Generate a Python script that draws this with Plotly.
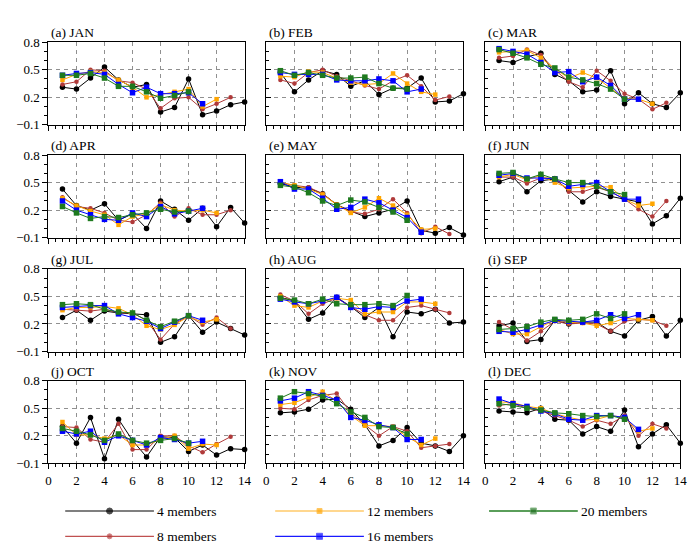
import plotly.graph_objects as go

# ---------------- data ----------------
MONTHS = ["(a) JAN", "(b) FEB", "(c) MAR", "(d) APR", "(e) MAY", "(f) JUN",
          "(g) JUL", "(h) AUG", "(i) SEP", "(j) OCT", "(k) NOV", "(l) DEC"]
SERIES = ["4 members", "8 members", "12 members", "16 members", "20 members"]

# each month: [4 members, 8 members, 12 members, 16 members, 20 members]
JAN = [[0.31, 0.29, 0.41, 0.53, 0.39, 0.31, 0.34, 0.04, 0.09, 0.40, 0.01, 0.05, 0.12, 0.15],
       [0.34, 0.37, 0.50, 0.49, 0.38, 0.36, 0.29, 0.08, 0.19, 0.20, 0.07, 0.13, 0.20],
       [0.39, 0.45, 0.48, 0.47, 0.39, 0.31, 0.20, 0.23, 0.26, 0.29, 0.10, 0.18],
       [0.44, 0.46, 0.47, 0.45, 0.34, 0.25, 0.31, 0.24, 0.24, 0.25, 0.13],
       [0.44, 0.44, 0.46, 0.41, 0.32, 0.32, 0.26, 0.19, 0.22, 0.26]]
FEB = [[0.47, 0.26, 0.39, 0.49, 0.45, 0.32, 0.38, 0.23, 0.30, 0.30, 0.41, 0.15, 0.16, 0.24],
       [0.39, 0.35, 0.47, 0.50, 0.43, 0.38, 0.33, 0.29, 0.38, 0.44, 0.32, 0.17, 0.21],
       [0.43, 0.42, 0.48, 0.47, 0.41, 0.36, 0.34, 0.35, 0.46, 0.35, 0.26, 0.23],
       [0.47, 0.45, 0.45, 0.45, 0.39, 0.38, 0.38, 0.40, 0.38, 0.26, 0.29],
       [0.49, 0.44, 0.47, 0.44, 0.41, 0.41, 0.42, 0.35, 0.30, 0.29]]
MAR = [[0.60, 0.58, 0.64, 0.68, 0.45, 0.38, 0.26, 0.28, 0.49, 0.13, 0.25, 0.13, 0.09, 0.25],
       [0.63, 0.65, 0.72, 0.66, 0.50, 0.37, 0.31, 0.49, 0.38, 0.24, 0.18, 0.07, 0.14],
       [0.69, 0.70, 0.71, 0.63, 0.51, 0.41, 0.47, 0.41, 0.30, 0.19, 0.18, 0.13],
       [0.73, 0.70, 0.67, 0.58, 0.47, 0.48, 0.37, 0.42, 0.33, 0.18, 0.18],
       [0.72, 0.68, 0.63, 0.56, 0.52, 0.42, 0.39, 0.35, 0.29, 0.18]]
APR = [[0.43, 0.25, 0.20, 0.27, 0.09, 0.16, 0.00, 0.30, 0.21, 0.09, 0.22, 0.02, 0.23, 0.06],
       [0.34, 0.24, 0.22, 0.17, 0.09, 0.07, 0.15, 0.28, 0.13, 0.22, 0.15, 0.15, 0.20],
       [0.33, 0.25, 0.19, 0.15, 0.04, 0.13, 0.16, 0.26, 0.20, 0.19, 0.20, 0.17],
       [0.30, 0.20, 0.15, 0.10, 0.09, 0.17, 0.13, 0.24, 0.16, 0.19, 0.22],
       [0.24, 0.17, 0.11, 0.13, 0.12, 0.15, 0.17, 0.21, 0.18, 0.19]]
MAY = [[0.49, 0.45, 0.44, 0.38, 0.26, 0.19, 0.13, 0.17, 0.21, 0.30, -0.02, -0.05, 0.01, -0.07],
       [0.50, 0.47, 0.45, 0.38, 0.26, 0.18, 0.16, 0.21, 0.32, 0.17, -0.05, 0.02, -0.06],
       [0.50, 0.47, 0.43, 0.37, 0.26, 0.17, 0.23, 0.33, 0.25, 0.15, -0.01, 0.00],
       [0.51, 0.43, 0.43, 0.33, 0.21, 0.23, 0.32, 0.28, 0.20, 0.12, -0.04],
       [0.47, 0.45, 0.39, 0.30, 0.25, 0.31, 0.29, 0.23, 0.18, 0.09]]
JUN = [[0.51, 0.56, 0.40, 0.52, 0.54, 0.42, 0.29, 0.40, 0.35, 0.32, 0.29, 0.05, 0.14, 0.33],
       [0.56, 0.56, 0.49, 0.55, 0.55, 0.40, 0.40, 0.45, 0.40, 0.32, 0.21, 0.13, 0.30],
       [0.56, 0.59, 0.53, 0.58, 0.50, 0.44, 0.45, 0.46, 0.45, 0.32, 0.25, 0.27],
       [0.58, 0.60, 0.55, 0.55, 0.54, 0.46, 0.48, 0.50, 0.40, 0.32, 0.32],
       [0.60, 0.61, 0.54, 0.59, 0.54, 0.50, 0.50, 0.46, 0.40, 0.37]]
JUL = [[0.27, 0.35, 0.24, 0.34, 0.32, 0.31, 0.30, 0.00, 0.06, 0.29, 0.11, 0.22, 0.15, 0.08],
       [0.36, 0.35, 0.34, 0.36, 0.32, 0.32, 0.24, 0.03, 0.20, 0.29, 0.19, 0.27, 0.15],
       [0.35, 0.38, 0.38, 0.39, 0.37, 0.30, 0.18, 0.14, 0.19, 0.28, 0.22, 0.25],
       [0.38, 0.39, 0.40, 0.40, 0.31, 0.27, 0.23, 0.15, 0.22, 0.29, 0.24],
       [0.41, 0.42, 0.41, 0.36, 0.33, 0.32, 0.24, 0.17, 0.23, 0.29]]
AUG = [[0.49, 0.45, 0.25, 0.32, 0.49, 0.39, 0.27, 0.38, 0.06, 0.33, 0.31, 0.36, 0.21, 0.22],
       [0.52, 0.45, 0.31, 0.42, 0.48, 0.39, 0.30, 0.24, 0.24, 0.38, 0.40, 0.36, 0.32],
       [0.50, 0.40, 0.38, 0.45, 0.48, 0.46, 0.31, 0.33, 0.33, 0.44, 0.44, 0.42],
       [0.47, 0.44, 0.42, 0.45, 0.49, 0.38, 0.36, 0.39, 0.38, 0.45, 0.47],
       [0.48, 0.46, 0.42, 0.47, 0.42, 0.41, 0.41, 0.42, 0.40, 0.51]]
SEP = [[0.18, 0.21, 0.01, 0.03, 0.24, 0.20, 0.22, 0.22, 0.12, 0.07, 0.24, 0.28, 0.07, 0.24],
       [0.22, 0.14, 0.02, 0.12, 0.23, 0.20, 0.21, 0.20, 0.12, 0.23, 0.25, 0.24, 0.18],
       [0.14, 0.09, 0.09, 0.17, 0.24, 0.22, 0.21, 0.18, 0.21, 0.26, 0.25, 0.24],
       [0.12, 0.11, 0.14, 0.19, 0.24, 0.23, 0.22, 0.24, 0.30, 0.26, 0.30],
       [0.14, 0.15, 0.17, 0.22, 0.25, 0.24, 0.25, 0.31, 0.26, 0.31]]
OCT = [[0.30, 0.12, 0.40, -0.05, 0.38, 0.15, -0.03, 0.19, 0.18, 0.03, 0.10, -0.01, 0.06, 0.05],
       [0.30, 0.29, 0.16, 0.13, 0.33, 0.05, 0.05, 0.20, 0.20, 0.09, 0.02, 0.11, 0.19],
       [0.35, 0.21, 0.21, 0.17, 0.21, 0.10, 0.10, 0.16, 0.20, 0.06, 0.11, 0.10],
       [0.25, 0.22, 0.25, 0.13, 0.20, 0.15, 0.10, 0.18, 0.16, 0.12, 0.14],
       [0.28, 0.25, 0.21, 0.15, 0.22, 0.15, 0.12, 0.15, 0.17, 0.12]]
NOV = [[0.45, 0.46, 0.49, 0.59, 0.60, 0.49, 0.32, 0.09, 0.15, 0.29, 0.12, 0.09, 0.03, 0.20],
       [0.50, 0.49, 0.59, 0.64, 0.66, 0.45, 0.32, 0.20, 0.30, 0.25, 0.07, 0.09, 0.11],
       [0.54, 0.56, 0.62, 0.68, 0.58, 0.42, 0.31, 0.31, 0.30, 0.19, 0.10, 0.17],
       [0.58, 0.61, 0.68, 0.64, 0.59, 0.40, 0.37, 0.32, 0.29, 0.16, 0.16],
       [0.61, 0.68, 0.66, 0.63, 0.55, 0.46, 0.40, 0.30, 0.29, 0.22]]
DEC = [[0.47, 0.46, 0.45, 0.50, 0.38, 0.37, 0.22, 0.30, 0.25, 0.48, 0.08, 0.22, 0.32, 0.12],
       [0.53, 0.55, 0.50, 0.47, 0.42, 0.37, 0.30, 0.37, 0.33, 0.42, 0.20, 0.33, 0.28],
       [0.57, 0.56, 0.52, 0.50, 0.44, 0.40, 0.37, 0.38, 0.42, 0.40, 0.25, 0.28],
       [0.60, 0.55, 0.52, 0.47, 0.44, 0.38, 0.37, 0.42, 0.42, 0.40, 0.27],
       [0.55, 0.53, 0.50, 0.48, 0.45, 0.44, 0.42, 0.41, 0.42, 0.38]]

MONTH_DATA = [JAN, FEB, MAR, APR, MAY, JUN, JUL, AUG, SEP, OCT, NOV, DEC]

X_TICKS = [0, 2, 4, 6, 8, 10, 12, 14]
Y_TICKS = [-0.1, 0.2, 0.5, 0.8]
Y_TICKTEXT = ["\u22120.1", "0.2", "0.5", "0.8"]

# ---------------- styles ----------------
COLORS = ["#000000", "#b03a3a", "#ffa500", "#0000ff", "#1e7a1e"]
LEGEND_COLORS = ["#000000", "#c05050", "#ffb020", "#1a1aff", "#5a9e5a"]
LEGEND_MCOLORS = ["#000000", "#b03a3a", "#ffa500", "#0000ff", "#1e6e1e"]
SYMBOLS = ["circle", "circle", "square", "square", "square"]
MSIZES = [5.5, 4.5, 4.5, 5.5, 5.5]
FONT = "Liberation Serif"
GRID = "#909090"

W, H = 700, 547
COLS_PX = [(38, 237), (259, 459), (481, 679)]
ROWS_PX = [(28, 113), (144, 229), (261, 346), (376, 461)]

fig = go.Figure()
annotations = []

for i, (title, data) in enumerate(zip(MONTHS, MONTH_DATA)):
    r, c = divmod(i, 3)
    n = i + 1
    xa = "x" if n == 1 else f"x{n}"
    ya = "y" if n == 1 else f"y{n}"
    for s, vals in enumerate(data):
        fig.add_trace(go.Scatter(
            x=list(range(1, len(vals) + 1)), y=vals, mode="lines+markers",
            line=dict(color=COLORS[s], width=1),
            marker=dict(color=COLORS[s], symbol=SYMBOLS[s], size=MSIZES[s]),
            xaxis=xa, yaxis=ya, showlegend=False, cliponaxis=False,
            name=SERIES[s]))
    x0, x1 = COLS_PX[c]
    y0, y1 = ROWS_PX[r]
    xd = [x0 / W, x1 / W]
    yd = [1 - y1 / H, 1 - y0 / H]
    xkey = "xaxis" if n == 1 else f"xaxis{n}"
    ykey = "yaxis" if n == 1 else f"yaxis{n}"
    fig.update_layout(**{
        xkey: dict(domain=xd, anchor=ya, range=[0, 14], tickvals=X_TICKS,
                   showticklabels=(r == 3), ticks="outside", ticklen=5,
                   tickcolor="black", tickwidth=1,
                   minor=dict(dtick=0.5, tick0=0, ticklen=3, ticks="outside",
                              tickcolor="black", showgrid=False),
                   showgrid=True, gridcolor=GRID, griddash="4px,4px",
                   gridwidth=1, showline=True, linecolor="black", linewidth=1.2,
                   mirror=True, zeroline=False,
                   tickfont=dict(family=FONT, size=13, color="black")),
        ykey: dict(domain=yd, anchor=xa, range=[-0.1, 0.8], tickvals=Y_TICKS,
                   ticktext=Y_TICKTEXT, showticklabels=(c == 0),
                   ticks="outside" if c == 0 else "inside", ticklen=5,
                   tickcolor="black", tickwidth=1,
                   minor=dict(dtick=0.1, tick0=-0.1, ticklen=3,
                              ticks="outside" if c == 0 else "inside",
                              tickcolor="black", showgrid=False),
                   showgrid=True, gridcolor=GRID, griddash="4px,4px",
                   gridwidth=1, showline=True, linecolor="black", linewidth=1.2,
                   mirror=True, zeroline=False,
                   tickfont=dict(family=FONT, size=13, color="black")),
    })
    annotations.append(dict(
        text=title, xref="paper", yref="paper", x=(x0 + 1) / W, y=yd[1],
        xanchor="left", yanchor="bottom", yshift=0, showarrow=False,
        font=dict(family=FONT, size=13.5, color="black")))

# ---------------- custom legend on a hidden pixel axis ----------------
LEG_POS = [(55, 510), (55, 536), (268, 510), (268, 536), (485, 510)]
LEG_LEN = 90
for s, name in enumerate(SERIES):
    lx, ly = LEG_POS[s]
    fig.add_trace(go.Scatter(
        x=[lx, lx + LEG_LEN / 2, lx + LEG_LEN], y=[ly, ly, ly],
        mode="lines+markers",
        line=dict(color=LEGEND_COLORS[s], width=2 if s == 4 else 1.2),
        marker=dict(color=[LEGEND_MCOLORS[s]] * 3, size=[0, MSIZES[s] + 0.5, 0],
                    symbol=SYMBOLS[s]),
        xaxis="x13", yaxis="y13", showlegend=False, cliponaxis=False,
        hoverinfo="skip"))
    annotations.append(dict(
        text=name, x=lx + LEG_LEN + 1, y=ly, xref="x13", yref="y13",
        xanchor="left", yanchor="middle", showarrow=False,
        font=dict(family=FONT, size=13.5, color="black")))

fig.update_layout(
    xaxis13=dict(domain=[0, 1], range=[0, W], visible=False, anchor="y13"),
    yaxis13=dict(domain=[0, (H - 481) / H], range=[H, 481], visible=False,
                 anchor="x13"),
)

fig.update_layout(
    width=W, height=H, margin=dict(l=0, r=0, t=0, b=0),
    paper_bgcolor="white", plot_bgcolor="white",
    annotations=annotations, showlegend=False,
    font=dict(family=FONT, color="black"),
)

fig.write_html("out.html")
